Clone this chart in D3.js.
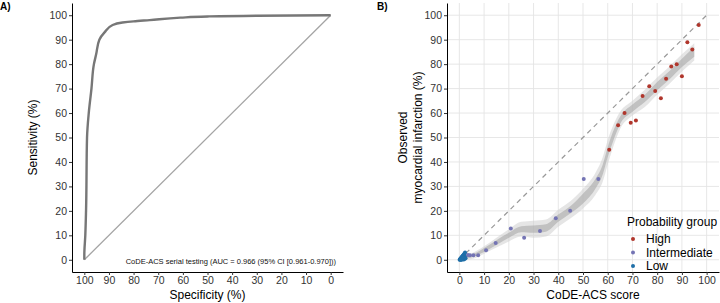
<!DOCTYPE html>
<meta charset="utf-8">
<script src="https://d3js.org/d3.v7.min.js"></script>
<style>
  body { margin: 0; background: #fff; }
  svg text { font-family: "Liberation Sans", Arial, sans-serif; }
</style>
<div id="chart"></div>
<script>
// ---- data: panel A, ROC curve (specificity / sensitivity, %)
const rocSpec = [100, 100, 99.6, 99.3, 98.9, 98.2, 97.1, 96.1, 95.2, 93.9, 91.8, 88.5, 84.5, 80, 73.5, 61, 50, 30, 0];
const rocSens = [0, 2, 10, 20, 50, 60, 70, 80, 84, 90, 93, 96, 97, 97.5, 98, 99, 99.5, 99.8, 100];
const rocLabel = "CoDE-ACS serial testing (AUC = 0.966 (95% CI [0.961-0.970]))";
const specTicks = [100, 90, 80, 70, 60, 50, 40, 30, 20, 10, 0];

// ---- data: panel B, calibration
const highX = [60.6, 64.2, 66.8, 69.3, 71.4, 74.1, 76.8, 79.2, 81.5, 83.6, 85.7, 87.9, 90, 92.2, 94.2, 96.8];
const highY = [45, 55, 60, 56, 57, 67, 71, 69, 66, 74, 79, 80, 75, 89, 86, 96];
const interX = [3.5, 4.3, 5.7, 7.6, 10.8, 14.7, 20.8, 26.2, 32.6, 39, 44.8, 50.3, 56.2];
const interY = [2, 1.9, 1.9, 1.9, 3.9, 6.9, 12.8, 9, 11.8, 17, 20, 33, 33];
const lowX = [0.1, 0.3, 0.5, 0.7, 0.9, 1.1, 1.3, 1.5, 1.7, 1.9, 2.1, 2.3, 0.4, 0.8, 1.2, 1.6, 2.0, 2.4, 1.0, 1.8, 2.2, 2.5, 0.6, 1.4];
const lowY = [0, 0.3, 0.4, 0.8, 1, 1.2, 1.5, 1.7, 2, 2.3, 2.6, 3, 0, 0.2, 0.3, 0.5, 0.8, 1.2, 0, 0.1, 0.4, 0.6, 0.1, 0.9];

// smoothed fit bands
const bandX   = [3, 5, 10, 15, 20, 25, 30, 35, 40, 45, 50, 55, 58, 60, 62, 65, 70, 75, 80, 85, 90, 95];
const outerLo = [0, 0.3, 2.5, 5, 7.5, 9.5, 9, 9.5, 13.5, 17, 21, 26.5, 32, 39, 45.5, 53.5, 59, 62.5, 67.5, 72, 77, 81.5];
const outerHi = [2, 2.7, 5.5, 9, 12.5, 15.5, 16, 16.5, 20.5, 24, 29, 35.5, 42, 49, 54.5, 60.5, 65, 69.5, 74.5, 79, 84, 88.5];
const innerLo = [0.5, 1, 3.2, 6, 9, 11.3, 11, 11.5, 15.5, 19, 23, 29, 35, 42, 48, 55.5, 60.5, 64.5, 69.3, 73.8, 78.8, 83];
const innerHi = [1.5, 2, 4.8, 8, 11, 13.7, 14, 14.5, 18.5, 22, 27, 33, 39, 46, 52, 58.5, 63.5, 67.5, 72.7, 77.2, 82.2, 87];

const groups = ["High", "Intermediate", "Low"];
const groupColors = ["#b0362c", "#7474b4", "#1f6fa8"];
const pctTicks = [0, 10, 20, 30, 40, 50, 60, 70, 80, 90, 100];

const svg = d3.select("#chart").append("svg")
    .attr("width", 720)
    .attr("height", 303);

// ================= Panel A =================
const xA = d3.scaleLinear().domain([105, -5]).range([72, 343]);
const yA = d3.scaleLinear().domain([-5, 105]).range([272, 3]);
const gA = svg.append("g");

gA.append("line")
    .attr("x1", xA(100)).attr("y1", yA(0))
    .attr("x2", xA(0)).attr("y2", yA(100))
    .attr("stroke", "#a4a4a4").attr("stroke-width", 1.3);

const roc = rocSpec.map((s, i) => [s, rocSens[i]]);
gA.append("path")
    .datum(roc)
    .attr("fill", "none")
    .attr("stroke", "#777")
    .attr("stroke-width", 2.4)
    .attr("stroke-linejoin", "round")
    .attr("d", d3.line().x(d => xA(d[0])).y(d => yA(d[1])).curve(d3.curveMonotoneY));

gA.append("g")
    .attr("transform", `translate(0,272)`)
    .call(d3.axisBottom(xA).tickValues(specTicks).tickSize(3).tickSizeOuter(0).tickPadding(2));
gA.append("g")
    .attr("transform", `translate(72,0)`)
    .call(d3.axisLeft(yA).tickValues(pctTicks).tickSize(3).tickSizeOuter(0).tickPadding(2));

gA.append("text")
    .attr("x", 336).attr("y", 261)
    .attr("text-anchor", "end")
    .attr("dominant-baseline", "central")
    .style("font-size", "7.5px")
    .attr("fill", "#111")
    .text(rocLabel);

gA.append("text")
    .attr("x", 207.5).attr("y", 299)
    .attr("text-anchor", "middle")
    .style("font-size", "12px")
    .text("Specificity (%)");
gA.append("text")
    .attr("transform", "translate(37,137.5) rotate(-90)")
    .attr("text-anchor", "middle")
    .style("font-size", "12px")
    .text("Sensitivity (%)");
gA.append("text")
    .attr("x", 0).attr("y", 10)
    .style("font-size", "10px").style("font-weight", "bold")
    .text("A)");

// ================= Panel B =================
const xB = d3.scaleLinear().domain([-5, 105]).range([447, 719]);
const yB = d3.scaleLinear().domain([-5, 105]).range([272, 3]);
const gB = svg.append("g");

// grid
gB.selectAll(".gx").data(pctTicks).join("line")
    .attr("x1", d => xB(d)).attr("x2", d => xB(d))
    .attr("y1", 3).attr("y2", 272)
    .attr("stroke", "#e4e4e4").attr("stroke-width", 0.9);
gB.selectAll(".gy").data(pctTicks).join("line")
    .attr("x1", 447).attr("x2", 719)
    .attr("y1", d => yB(d)).attr("y2", d => yB(d))
    .attr("stroke", "#e4e4e4").attr("stroke-width", 0.9);

// bands
const band = bandX.map((x, i) => ({x, oLo: outerLo[i], oHi: outerHi[i], iLo: innerLo[i], iHi: innerHi[i]}));
gB.append("path").datum(band)
    .attr("fill", "#cfcfcf").attr("fill-opacity", 0.55)
    .attr("d", d3.area().x(d => xB(d.x)).y0(d => yB(d.oLo)).y1(d => yB(d.oHi)).curve(d3.curveMonotoneX));
gB.append("path").datum(band)
    .attr("fill", "#a8a8a8").attr("fill-opacity", 0.6)
    .attr("d", d3.area().x(d => xB(d.x)).y0(d => yB(d.iLo)).y1(d => yB(d.iHi)).curve(d3.curveMonotoneX));

// identity line
gB.append("line")
    .attr("x1", xB(0)).attr("y1", yB(0))
    .attr("x2", xB(100)).attr("y2", yB(100))
    .attr("stroke", "#999").attr("stroke-width", 1.2)
    .attr("stroke-dasharray", "5,4");

// points
const pts = [
    {xs: lowX, ys: lowY, c: groupColors[2]},
    {xs: interX, ys: interY, c: groupColors[1]},
    {xs: highX, ys: highY, c: groupColors[0]}
];
pts.forEach(p => {
    gB.append("g").selectAll("circle")
        .data(p.xs.map((x, i) => [x, p.ys[i]]))
        .join("circle")
        .attr("cx", d => xB(d[0]))
        .attr("cy", d => yB(d[1]))
        .attr("r", 2)
        .attr("fill", p.c);
});

gB.append("g")
    .attr("transform", `translate(0,272)`)
    .call(d3.axisBottom(xB).tickValues(pctTicks).tickSize(3).tickSizeOuter(0).tickPadding(2));
gB.append("g")
    .attr("transform", `translate(447,0)`)
    .call(d3.axisLeft(yB).tickValues(pctTicks).tickSize(3).tickSizeOuter(0).tickPadding(2));

gB.append("text")
    .attr("x", 593).attr("y", 299)
    .attr("text-anchor", "middle")
    .style("font-size", "12px")
    .text("CoDE-ACS score");
const ylab = gB.append("text")
    .attr("transform", "translate(407,137.5) rotate(-90)")
    .attr("text-anchor", "middle")
    .style("font-size", "12px");
ylab.append("tspan").attr("x", 0).attr("dy", 0).text("Observed");
ylab.append("tspan").attr("x", 0).attr("dy", 15).text("myocardial infarction (%)");
gB.append("text")
    .attr("x", 377).attr("y", 10)
    .style("font-size", "10px").style("font-weight", "bold")
    .text("B)");

// legend
const leg = gB.append("g");
leg.append("text")
    .attr("x", 627).attr("y", 222)
    .attr("dominant-baseline", "central")
    .style("font-size", "12px")
    .text("Probability group");
leg.selectAll(".item").data(groups).join("g")
    .attr("transform", (d, i) => `translate(633,${239 + i * 13.5})`)
    .each(function(d, i) {
        const g = d3.select(this);
        g.append("circle").attr("r", 2).attr("fill", groupColors[i]);
        g.append("text").attr("x", 13).attr("dominant-baseline", "central")
            .style("font-size", "12px").text(d);
    });

// axis styling
svg.selectAll(".domain").attr("stroke", "#000").attr("stroke-width", 1);
svg.selectAll(".tick line").attr("stroke", "#333");
svg.selectAll(".tick text").style("font-size", "10.5px").attr("fill", "#333");
</script>
